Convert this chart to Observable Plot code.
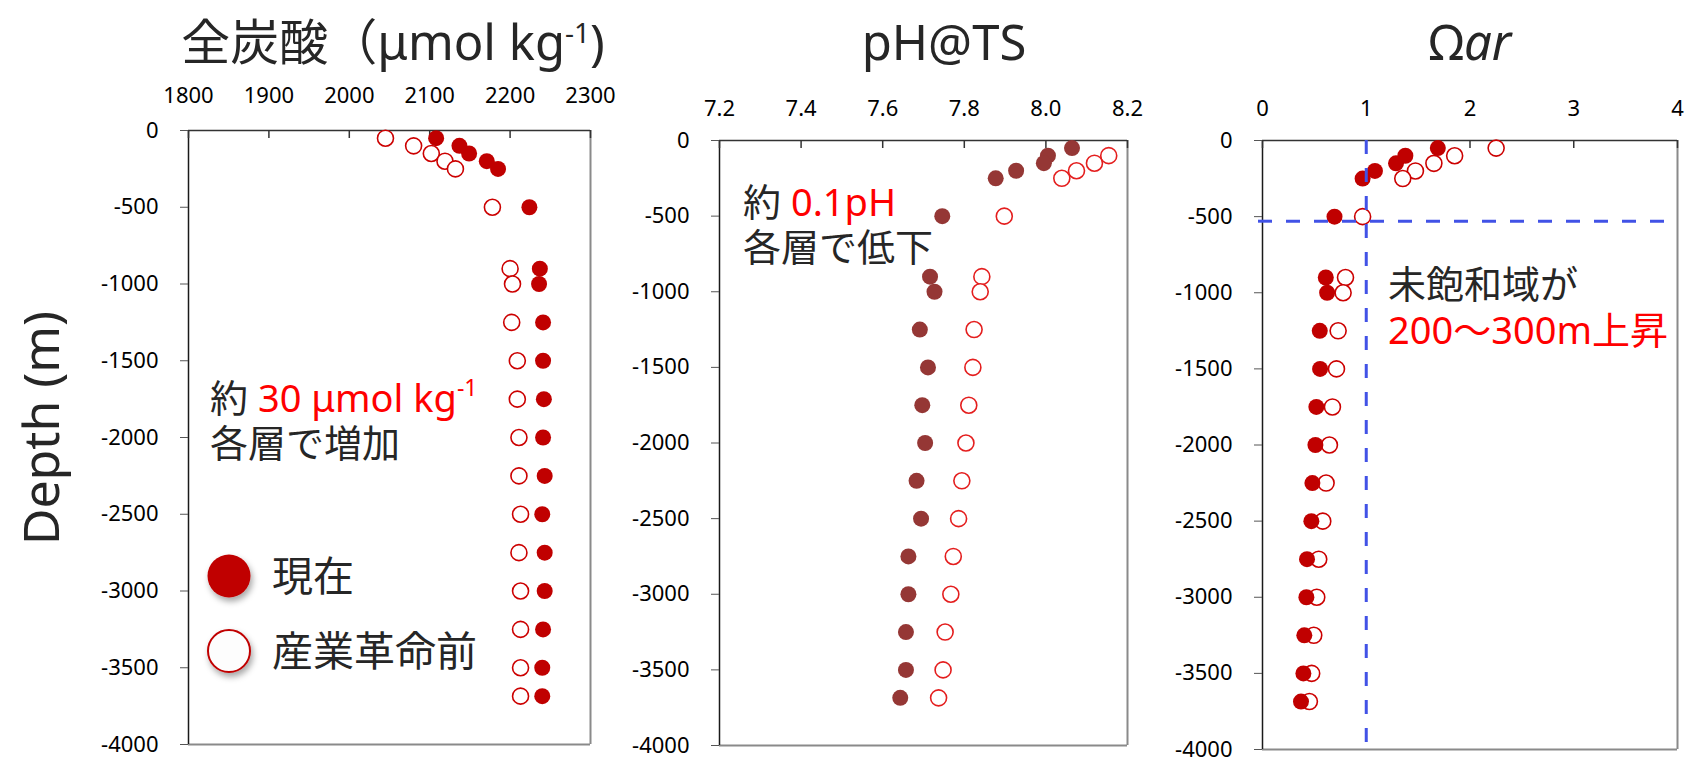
<!DOCTYPE html>
<html><head><meta charset="utf-8">
<script src="https://cdn.jsdelivr.net/npm/d3@7"></script>
<script src="https://cdn.jsdelivr.net/npm/@observablehq/plot@0.6"></script>
<style>
html,body{margin:0;padding:0;background:#fff;}
#root{position:relative;width:1687px;height:761px;overflow:hidden;font-family:"Noto Sans","Noto Sans CJK JP",sans-serif;}
#root > svg{position:absolute;top:0;}
</style></head><body><div id="root"></div>
<script>
// ---- data ----
const depths = [50,100,150,200,250,500,900,1000,1250,1500,1750,2000,2250,2500,2750,3000,3250,3500,3685];
const dicNow = [2108,2137,2149,2171,2185,2224,2237,2236,2241,2241,2242,2241,2243,2240,2243,2243,2241,2240,2240];
const dicPre = [2045,2080,2102,2119,2132,2178,2200,2203,2202,2209,2209,2211,2211,2213,2211,2213,2213,2213,2213];
const phNow = [8.064,8.005,7.995,7.927,7.877,7.746,7.716,7.727,7.691,7.711,7.697,7.704,7.683,7.694,7.663,7.663,7.657,7.657,7.643];
const phPre = [null,8.154,8.119,8.075,8.039,7.898,7.843,7.839,7.824,7.821,7.811,7.804,7.794,7.786,7.773,7.767,7.753,7.748,7.737];
const omNow = [1.690,1.377,1.287,1.084,0.965,0.694,0.610,0.623,0.552,0.555,0.519,0.510,0.481,0.471,0.429,0.423,0.403,0.394,0.371];
const omPre = [2.252,1.852,1.652,1.474,1.352,0.965,0.800,0.777,0.729,0.713,0.674,0.645,0.613,0.581,0.542,0.523,0.494,0.474,0.452];
const dicTicks = [1800,1900,2000,2100,2200,2300];
const phTicks = [7.2,7.4,7.6,7.8,8.0,8.2];
const omTicks = [0,1,2,3,4];
const depthTicks = [0,-500,-1000,-1500,-2000,-2500,-3000,-3500,-4000];
const omegaThreshold = [1];
const undersaturationDepth = [-530];

const H = 761;
const root = document.getElementById("root");

function panel(o) {
  const rows = depths.map((d, i) => ({depth: -d, now: o.now[i], pre: o.pre[i]}));
  const fh = H - o.mT - o.mB;
  const svg = Plot.plot({
    width: o.width, height: H,
    marginLeft: o.mL, marginRight: o.mR, marginTop: o.mT, marginBottom: o.mB,
    x: {domain: o.domain, axis: null},
    y: {domain: [-4000, 0], axis: null},
    style: {fontFamily: '"Noto Sans","Noto Sans CJK JP",sans-serif', fontSize: "22px", color: "#000", background: "none", overflow: "visible"},
    marks: [
      Plot.ruleX([o.domain[1]], {stroke: "#8a8a8a", strokeWidth: 2}),
      Plot.ruleY([-4000], {stroke: "#8a8a8a", strokeWidth: 2}),
      Plot.ruleX([o.domain[0]], {stroke: "#1a1a1a", strokeWidth: 1.5}),
      Plot.ruleY([0], {stroke: "#333", strokeWidth: 1.5}),
      Plot.ruleX(o.ticks, {stroke: "#333", strokeWidth: 1.5, insetBottom: fh - 8}),
      Plot.axisX(o.ticks, {anchor: "top", tickSize: 0, tickPadding: o.xPad, tickFormat: o.fmt, fontSize: 22, fill: "#000", label: null}),
      Plot.axisY(depthTicks, {anchor: "left", tickSize: 8, tickPadding: 22, tickFormat: d => String(d), fontSize: 22, fill: "#000", stroke: "#555", label: null}),
      Plot.dot(rows, {filter: d => d.pre != null, x: "pre", y: "depth", r: 8, fill: "white", stroke: o.preStroke, strokeWidth: 1.6}),
      Plot.dot(rows, {x: "now", y: "depth", r: 8, fill: o.nowFill}),
      ...(o.extra || [])
    ]
  });
  svg.style.left = o.left + "px";
  root.appendChild(svg);
}

panel({left: 80, width: 540, mL: 108, mR: 30, mT: 130, mB: 17, xPad: 28,
  domain: [1800, 2300], ticks: dicTicks, fmt: d => String(d),
  now: dicNow, pre: dicPre, nowFill: "#c00000", preStroke: "#cc0000"});

panel({left: 620, width: 530, mL: 99, mR: 23, mT: 140, mB: 16, xPad: 25,
  domain: [7.2, 8.2], ticks: phTicks, fmt: d => d.toFixed(1),
  now: phNow, pre: phPre, nowFill: "#953735", preStroke: "#e41e1e"});

panel({left: 1150, width: 537, mL: 112, mR: 10, mT: 140, mB: 12, xPad: 25,
  domain: [0, 4], ticks: omTicks, fmt: d => String(d),
  now: omNow, pre: omPre, nowFill: "#c00000", preStroke: "#cc0000",
  extra: [
    Plot.ruleX(omegaThreshold, {stroke: "#4152e6", strokeWidth: 3, strokeDasharray: "14,14", insetBottom: 4}),
    Plot.ruleY(undersaturationDepth, {stroke: "#4152e6", strokeWidth: 3, strokeDasharray: "14,14", insetLeft: -4})
  ]});

// ---- overlay text: titles, axis label, annotations, legend ----
const ns = "http://www.w3.org/2000/svg";
const ov = document.createElementNS(ns, "svg");
ov.setAttribute("width", 1687); ov.setAttribute("height", H);
ov.style.left = "0px";
ov.setAttribute("font-family", '"Noto Sans","Noto Sans CJK JP",sans-serif');
ov.innerHTML = `
<defs><filter id="sh" x="-50%" y="-50%" width="200%" height="200%">
<feDropShadow dx="2" dy="4" stdDeviation="3" flood-color="#000" flood-opacity="0.35"/></filter></defs>
<g fill="#262626">
<text x="393" y="60" text-anchor="middle" font-size="49">全炭酸（μmol kg<tspan font-size="28" dy="-17">-1</tspan><tspan dy="17">)</tspan></text>
<text x="944" y="60" text-anchor="middle" font-size="49">pH@TS</text>
<text x="1470" y="60" text-anchor="middle" font-size="49">Ω<tspan font-style="italic">ar</tspan></text>
<text transform="translate(59,428) rotate(-90)" text-anchor="middle" font-size="50">Depth (m)</text>
<text x="210" y="412" font-size="38">約 <tspan fill="#ff0000">30 μmol kg</tspan><tspan fill="#ff0000" font-size="23" dy="-16">-1</tspan></text>
<text x="210" y="457" font-size="38">各層で増加</text>
<text x="743" y="216" font-size="38">約 <tspan fill="#ff0000">0.1pH</tspan></text>
<text x="743" y="261" font-size="38">各層で低下</text>
<text x="1388" y="298" font-size="38">未飽和域が</text>
<text x="1388" y="344" font-size="38" fill="#ff0000">200～300m上昇</text>
<circle cx="229" cy="576" r="21.5" fill="#c00000" filter="url(#sh)"/>
<circle cx="229" cy="651" r="21" fill="#fdfdfd" stroke="#c00000" stroke-width="2" filter="url(#sh)"/>
<text x="272" y="591" font-size="41">現在</text>
<text x="272" y="666" font-size="41">産業革命前</text>
</g>`;
root.appendChild(ov);
</script>
</body></html>
